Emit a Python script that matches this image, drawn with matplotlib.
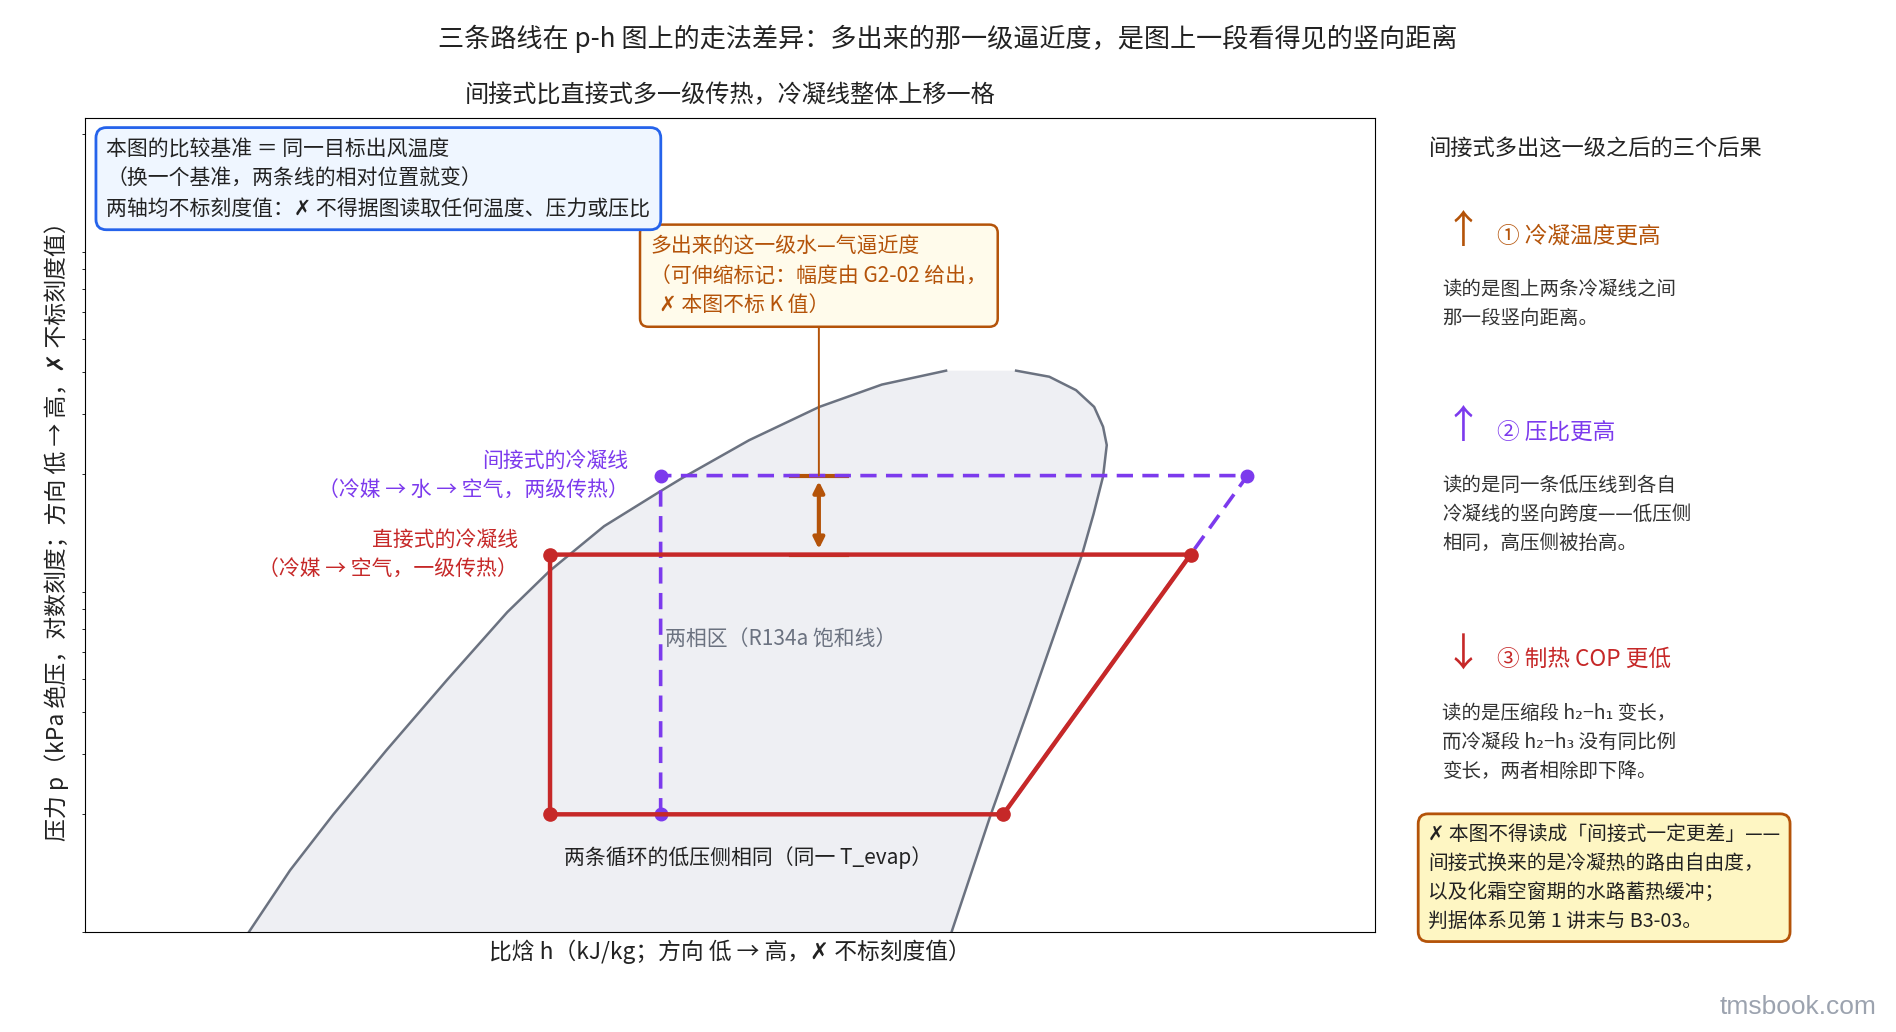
import matplotlib
matplotlib.use('Agg')
import matplotlib.pyplot as plt
from matplotlib.ticker import NullLocator, NullFormatter

plt.rcParams['font.family'] = ['Noto Sans CJK SC', 'DejaVu Sans']
plt.rcParams['axes.unicode_minus'] = False

# R134a saturation dome (h in kJ/kg, p in kPa)
liq_h = [164.7, 178.9, 193.0, 210.3, 230.0, 249.6, 263.4, 281.1, 299.2, 306.7, 328.3, 351.1, 371.5, 392.4]
liq_p = [88, 137, 200, 309, 497, 786, 1039, 1406, 1776, 1952, 2516, 3151, 3666, 4028]
vap_h = [415.2, 426.0, 434.7, 440.6, 443.5, 444.7, 443.5, 440.4, 436.6, 430.9, 419.5, 406.9, 393.8]
vap_p = [4028, 3866, 3530, 3152, 2756, 2434, 1968, 1526, 1156, 820, 415, 199, 88]

# cycle state points
p_evap = 200
p_cond_direct = 1160
p_cond_indirect = 1980
h1 = 411.0            # evaporator outlet
h2_direct = 472.0     # compressor discharge, direct
h2_indirect = 490.5   # compressor discharge, indirect
h3_direct = 263.5     # condenser outlet, direct
h3_indirect = 299.5   # condenser outlet, indirect
h_approach = 351.0    # where the approach marker sits
p_note_box = 7660

direct_h = [h3_direct, h3_direct, h2_direct, h1, h3_direct]
direct_p = [p_evap, p_cond_direct, p_cond_direct, p_evap, p_evap]
indirect_h = [h3_indirect, h3_indirect, h2_indirect, h1]
indirect_p = [p_evap, p_cond_indirect, p_cond_indirect, p_evap]

RED = '#c62828'
PURPLE = '#7c3aed'
ORANGE = '#b45309'
GRAY = '#6b7280'
DARK = '#222222'

fig = plt.figure(figsize=(18.96, 10.32), dpi=100)
ax = fig.add_axes([0.0446, 0.0966, 0.6806, 0.7886])

# dome
dome_h = liq_h + vap_h
dome_p = liq_p + vap_p
ax.fill(dome_h, dome_p, color='#eeeff3', zorder=1, lw=0)
ax.plot(liq_h, liq_p, color=GRAY, lw=1.8, zorder=2)
ax.plot(vap_h, vap_p, color=GRAY, lw=1.8, zorder=2)

# approach caps
for p in (p_cond_indirect, p_cond_direct):
    ax.plot([h_approach - 9, h_approach + 9], [p, p], color=ORANGE, lw=3, zorder=3)

# indirect cycle (dashed)
ax.plot(indirect_h, indirect_p, color=PURPLE, lw=2.6, ls=(0, (4.5, 2.6)), zorder=4)
ax.plot(indirect_h[:3], indirect_p[:3], 'o', color=PURPLE, ms=9, zorder=4)

# direct cycle
ax.plot(direct_h, direct_p, color=RED, lw=3.2, zorder=5, solid_joinstyle='round')
ax.plot(direct_h[:4], direct_p[:4], 'o', color=RED, ms=9.5, zorder=5)

# approach double arrow
ax.annotate('', xy=(h_approach, p_cond_direct), xytext=(h_approach, p_cond_indirect),
            arrowprops=dict(arrowstyle='<|-|>', color=ORANGE, lw=3, mutation_scale=16,
                            shrinkA=4, shrinkB=4), zorder=6)
ax.annotate('多出来的这一级水—气逼近度\n（可伸缩标记：幅度由 G2-02 给出，\n  ✗ 本图不标 K 值）',
            xy=(h_approach, p_cond_indirect), xytext=(h_approach, p_note_box),
            ha='center', va='center', multialignment='left', fontsize=15, color=ORANGE,
            linespacing=1.45,
            bbox=dict(boxstyle='round,pad=0.5,rounding_size=0.4', fc='#fffbeb', ec=ORANGE, lw=1.8),
            arrowprops=dict(arrowstyle='-', color=ORANGE, lw=1.4, shrinkA=0, shrinkB=0), zorder=7)

# line labels
ax.annotate('间接式的冷凝线\n（冷媒 → 水 → 空气，两级传热）', xy=(h3_indirect, p_cond_indirect),
            xytext=(-23, 0), textcoords='offset points', ha='right', va='center',
            fontsize=15, color=PURPLE, linespacing=1.35)
ax.annotate('直接式的冷凝线\n（冷媒 → 空气，一级传热）', xy=(h3_direct, p_cond_direct),
            xytext=(-23, 0), textcoords='offset points', ha='right', va='center',
            fontsize=15, color=RED, linespacing=1.35)
ax.text(301, 650, '两相区（R134a 饱和线）', ha='left', va='center', fontsize=15, color=GRAY)
ax.text(328, 149, '两条循环的低压侧相同（同一 T_evap）', ha='center', va='center',
        fontsize=15, color=DARK)

# baseline box
ax.text(0.0169, 0.976,
        '本图的比较基准 ＝ 同一目标出风温度\n（换一个基准，两条线的相对位置就变）\n两轴均不标刻度值：✗ 不得据图读取任何温度、压力或压比',
        transform=ax.transAxes, ha='left', va='top', fontsize=15, color=DARK, linespacing=1.45,
        bbox=dict(boxstyle='round,pad=0.5,rounding_size=0.5', fc='#eff6ff', ec='#2563eb', lw=2),
        zorder=8)

# axes
ax.set_xlim(112, 532)
ax.set_yscale('log')
ax.set_ylim(90, 22200)
ax.set_xticks([])
ax.yaxis.set_major_locator(NullLocator())
ax.yaxis.set_minor_formatter(NullFormatter())
ax.set_xlabel('比焓 h（kJ/kg；方向 低 → 高，✗ 不标刻度值）', fontsize=16.4, labelpad=5, color=DARK)
ax.set_ylabel('压力 p（kPa 绝压，对数刻度；方向 低 → 高，✗ 不标刻度值）', fontsize=16.5,
              labelpad=6, color=DARK)
ax.set_title('间接式比直接式多一级传热，冷凝线整体上移一格', fontsize=17.4, pad=12, color=DARK)

fig.text(0.5, 0.9625, '三条路线在 p-h 图上的走法差异：多出来的那一级逼近度，是图上一段看得见的竖向距离',
         ha='center', va='center', fontsize=18.8, color=DARK)

# right-hand panel
fig.text(0.7538, 0.8558, '间接式多出这一级之后的三个后果', ha='left', va='center', fontsize=16, color=DARK)

items = [('↑', '① 冷凝温度更高', ORANGE, 0.7749, 0.7714,
          '读的是图上两条冷凝线之间\n那一段竖向距离。', 0.7057),
         ('↑', '② 压比更高', PURPLE, 0.5862, 0.5815,
          '读的是同一条低压线到各自\n冷凝线的竖向跨度——低压侧\n相同，高压侧被抬高。', 0.5018),
         ('↓', '③ 制热 COP 更低', RED, 0.3658, 0.3611,
          '读的是压缩段 h₂−h₁ 变长，\n而冷凝段 h₂−h₃ 没有同比例\n变长，两者相除即下降。', 0.2802)]
for arrow, head, col, ya, yh, body, yb in items:
    fig.text(0.7717, ya, arrow, ha='center', va='center', fontsize=28, color=col)
    fig.text(0.7895, yh, head, ha='left', va='center', fontsize=16.3, color=col)
    fig.text(0.7608, yb, body, ha='left', va='center', fontsize=14, color='#333333', linespacing=1.5)

fig.text(0.7532, 0.1495,
         '✗ 本图不得读成「间接式一定更差」——\n间接式换来的是冷凝热的路由自由度，\n以及化霜空窗期的水路蓄热缓冲；\n判据体系见第 1 讲末与 B3-03。',
         ha='left', va='center', fontsize=14.2, color=DARK, linespacing=1.5,
         bbox=dict(boxstyle='round,pad=0.5,rounding_size=0.5', fc='#fef6c3', ec=ORANGE, lw=2))

fig.text(0.9898, 0.0246, 'tmsbook.com', ha='right', va='center', fontsize=19,
         color='#9ca3af', family='Liberation Sans')

fig.savefig('out.png', dpi=100)
